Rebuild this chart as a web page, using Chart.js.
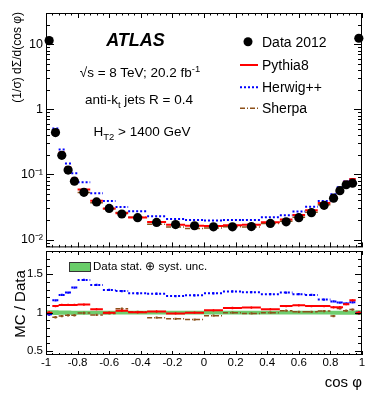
<!DOCTYPE html>
<html>
<head>
<meta charset="utf-8">
<script src="https://cdn.jsdelivr.net/npm/chart.js@4/dist/chart.umd.min.js"></script>
<style>
  body { margin: 0; background: #fff; }
  #wrap { position: relative; width: 382px; height: 398px; background: #fff; overflow: hidden;
          font-family: "Liberation Sans", Arial, sans-serif; color: #000; }
  canvas { position: absolute; left: 0; }
  .t { position: absolute; white-space: nowrap; line-height: 1; }
  .c { transform: translate(-50%, -50%); }
  .l { transform: translate(0, -50%); }
  sub, sup { font-size: 70%; line-height: 0; }
</style>
</head>
<body>
<div id="wrap">
  <canvas id="spectrum" width="382" height="252" style="top:0"></canvas>
  <canvas id="ratio" width="382" height="153" style="top:245px"></canvas>

  <div class="t c" style="left:135.5px;top:40px;font-size:18px;font-weight:bold;font-style:italic">ATLAS</div>
  <div class="t c" style="left:140px;top:73px;font-size:13.5px">√s = 8 TeV; 20.2 fb<sup>-1</sup></div>
  <div class="t c" style="left:139px;top:100px;font-size:13.5px">anti-k<sub>t</sub> jets R = 0.4</div>
  <div class="t c" style="left:142px;top:132px;font-size:13.5px">H<sub>T2</sub> &gt; 1400 GeV</div>

  <svg class="t" style="left:236px;top:30px" width="26" height="90">
    <circle cx="12" cy="11.7" r="4.5" fill="#000"/>
    <line x1="4" y1="35" x2="22" y2="35" stroke="rgb(255,0,0)" stroke-width="2"/>
    <line x1="4" y1="57.3" x2="22" y2="57.3" stroke="rgb(0,0,255)" stroke-width="2" stroke-dasharray="2,2"/>
    <line x1="4" y1="78.3" x2="22" y2="78.3" stroke="rgb(140,80,25)" stroke-width="1.5" stroke-dasharray="5,2,1,2"/>
  </svg>
  <div class="t l" style="left:262px;top:41.7px;font-size:14px">Data 2012</div>
  <div class="t l" style="left:262px;top:65px;font-size:14px">Pythia8</div>
  <div class="t l" style="left:262px;top:87.3px;font-size:14px">Herwig++</div>
  <div class="t l" style="left:262px;top:108.3px;font-size:14px">Sherpa</div>

  <div class="t" style="left:69px;top:262px;width:20px;height:8px;background:rgb(105,205,105);border:1px solid #333"></div>
  <div class="t l" style="left:93px;top:266.5px;font-size:11.5px">Data stat. ⊕ syst. unc.</div>

  <div class="t" style="left:16.5px;top:12px;font-size:12px;transform-origin:100% 50%;transform:translate(-100%,-50%) rotate(-90deg)">(1/σ) dΣ/d(cos φ)</div>
  <div class="t c" style="left:18.5px;top:303.5px;font-size:15px;transform:translate(-50%,-50%) rotate(-90deg)">MC / Data</div>
  <div class="t" style="left:362px;top:381px;font-size:15px;transform:translate(-100%,-50%)">cos φ</div>
</div>

<script>
const binEdges = [ -1, -0.96, -0.92, -0.88, -0.84, -0.8, -0.72, -0.64, -0.56, -0.48, -0.36, -0.24, -0.12,
  0, 0.12, 0.24, 0.36, 0.48, 0.56, 0.64, 0.72, 0.8, 0.84, 0.88, 0.92, 0.96, 1 ]
const data2012 = [ 11.4, 0.44, 0.197, 0.117, 0.0788, 0.0532, 0.0379, 0.0301, 0.0247, 0.0217, 0.0183, 0.0170, 0.0163,
  0.0157, 0.0157, 0.0158, 0.0177, 0.0187, 0.0217, 0.0259, 0.0335, 0.0432, 0.0563, 0.0695, 0.0735, 12.4 ]
const pythiaRatio = [ 1.0, 1.085, 1.10, 1.10, 1.10, 1.105, 1.045, 1.0, 1.025, 1.005, 1.015, 0.99, 1.0,
  1.03, 1.06, 1.065, 1.045, 1.085, 1.095, 1.085, 1.085, 1.07, 1.07, 1.11, 1.16, 1.0 ]
const herwigRatio = [ 0.98, 1.16, 1.23, 1.26, 1.325, 1.425, 1.36, 1.295, 1.28, 1.25, 1.245, 1.215, 1.225,
  1.25, 1.275, 1.265, 1.24, 1.26, 1.24, 1.23, 1.17, 1.145, 1.13, 1.12, 1.135, 1.0 ]
const sherpaRatio = [ 0.98, 0.94, 0.955, 0.965, 0.965, 0.995, 0.97, 0.99, 1.05, 1.01, 0.935, 0.92, 0.91,
  0.96, 1.0, 0.99, 1.0, 1.025, 1.01, 1.01, 1.02, 0.955, 1.055, 1.025, 1.04, 0.99 ]
const dataUnc = [ 0.03, 0.03, 0.028, 0.027, 0.026, 0.026, 0.025, 0.025, 0.025, 0.025, 0.024, 0.024, 0.024,
  0.024, 0.024, 0.024, 0.024, 0.025, 0.025, 0.025, 0.025, 0.026, 0.026, 0.027, 0.028, 0.03 ]
const mcErr = [ 0.02, 0.015, 0.015, 0.015, 0.015, 0.015, 0.015, 0.015, 0.015, 0.015, 0.015, 0.015, 0.015,
  0.015, 0.015, 0.015, 0.015, 0.015, 0.015, 0.015, 0.015, 0.015, 0.015, 0.015, 0.015, 0.02 ]

const xTickValues = [ -1, -0.8, -0.6, -0.4, -0.2, 0, 0.2, 0.4, 0.6, 0.8, 1 ]
const xTickLabels = [ '-1', '-0.8', '-0.6', '-0.4', '-0.2', '0', '0.2', '0.4', '0.6', '0.8', '1' ]
const logTickValues = [ 0.01, 0.1, 1, 10 ]
const logTickLabels = [ '10⁻²', '10⁻¹', '1', '10' ]
const ratioTickValues = [ 0.5, 1, 1.5 ]
const ratioTickLabels = [ '0.5', '1', '1.5' ]

const RED = 'rgb(255,0,0)'
const BLUE = 'rgb(0,0,255)'
const BROWN = 'rgb(140,80,25)'
const GREEN = 'rgb(110,205,110)'
const FAMILY = '"Liberation Sans", Arial, sans-serif'

const binCentre = i => (binEdges[i] + binEdges[i + 1]) / 2

// one flat segment per bin, with a gap after it
function segments(values) {
  const pts = []
  values.forEach((v, i) => {
    pts.push({ x: binEdges[i], y: v }, { x: binEdges[i + 1], y: v }, { x: binEdges[i + 1], y: null })
  })
  return pts
}

// continuous staircase, for the uncertainty band
function staircase(values) {
  const pts = []
  values.forEach((v, i) => pts.push({ x: binEdges[i], y: v }, { x: binEdges[i + 1], y: v }))
  return pts
}

function errorBars(values, errs) {
  const pts = []
  values.forEach((v, i) => {
    const c = binCentre(i)
    pts.push({ x: c, y: v - errs[i] }, { x: c, y: v + errs[i] }, { x: c, y: null })
  })
  return pts
}

function mcLine(label, pts, color, dash, width) {
  return { label, data: pts, borderColor: color, borderWidth: width, borderDash: dash,
    pointRadius: 0, fill: false, spanGaps: false, tension: 0 }
}

function linearTicks(from, to, step, majorEvery, majorLen, minorLen) {
  const out = []
  const n = Math.round((to - from) / step)
  for (let k = 0; k <= n; k++) out.push({ v: from + k * step, len: k % majorEvery === 0 ? majorLen : minorLen })
  return out
}

function logTicks(min, max, majorLen, minorLen) {
  const out = []
  for (let d = -3; d <= 2; d++) {
    for (let m = 1; m <= 9; m++) {
      const v = m * Math.pow(10, d)
      if (v >= min && v <= max) out.push({ v, len: m === 1 ? majorLen : minorLen })
    }
  }
  return out
}

// ROOT style frame with inward ticks on all four sides
const frameTicks = {
  id: 'frameTicks',
  afterDatasetsDraw(chart, args, opts) {
    const { ctx, chartArea: a, scales: { x, y } } = chart
    ctx.save()
    ctx.strokeStyle = '#000'
    ctx.lineWidth = 1
    ctx.beginPath()
    opts.x.forEach(t => {
      const px = Math.round(x.getPixelForValue(t.v)) + 0.5
      ctx.moveTo(px, a.bottom); ctx.lineTo(px, a.bottom - t.len)
      ctx.moveTo(px, a.top); ctx.lineTo(px, a.top + t.len)
    })
    opts.y.forEach(t => {
      const py = Math.round(y.getPixelForValue(t.v)) + 0.5
      ctx.moveTo(a.left, py); ctx.lineTo(a.left + t.len, py)
      ctx.moveTo(a.right, py); ctx.lineTo(a.right - t.len, py)
    })
    ctx.stroke()
    ctx.strokeRect(a.left + 0.5, a.top + 0.5, a.right - a.left - 1, a.bottom - a.top - 1)
    ctx.restore()
  }
}

function yAxis(type, min, max, values, labels, size) {
  return {
    type, min, max,
    grid: { display: false, drawTicks: false },
    border: { display: false },
    ticks: { font: { family: FAMILY, size }, color: '#000', padding: 3, callback: (v, i) => labels[i] },
    afterBuildTicks: s => { s.ticks = values.map(v => ({ value: v })) },
    afterFit: s => { s.width = 46; s.paddingTop = 0; s.paddingBottom = 0 }
  }
}

const pythiaTop = data2012.map((d, i) => d * pythiaRatio[i])
const herwigTop = data2012.map((d, i) => d * herwigRatio[i])
const sherpaTop = data2012.map((d, i) => d * sherpaRatio[i])

const logMin = 0.00757
const logMax = 30.3

new Chart(document.getElementById('spectrum'), {
  type: 'line',
  data: {
    datasets: [
      { label: 'Data 2012', data: data2012.map((v, i) => ({ x: binCentre(i), y: v })), showLine: false,
        pointRadius: 4.6, pointBackgroundColor: '#000', pointBorderWidth: 0, clip: 6 },
      mcLine('Pythia8', segments(pythiaTop), RED, [], 2),
      mcLine('Herwig++', segments(herwigTop), BLUE, [2, 2], 2),
      mcLine('Sherpa', segments(sherpaTop), BROWN, [5, 2, 1, 2], 1.5),
    ]
  },
  options: {
    responsive: false,
    animation: false,
    events: [],
    layout: { padding: { top: 13, right: 20, bottom: 1, left: 0 } },
    plugins: {
      legend: { display: false },
      tooltip: { enabled: false },
      frameTicks: {
        x: linearTicks(-1, 1, 0.04, 5, 5, 2.5),
        y: logTicks(logMin, logMax, 8, 4)
      }
    },
    scales: {
      x: { type: 'linear', min: -1, max: 1, display: false },
      y: yAxis('logarithmic', logMin, logMax, logTickValues, logTickLabels, 12.5)
    }
  },
  plugins: [ frameTicks ]
})

new Chart(document.getElementById('ratio'), {
  type: 'line',
  data: {
    datasets: [
      mcLine('Pythia8', segments(pythiaRatio), RED, [], 2),
      mcLine('Pythia8 err', errorBars(pythiaRatio, mcErr), RED, [], 1.5),
      mcLine('Herwig++', segments(herwigRatio), BLUE, [2, 2], 2),
      mcLine('Herwig++ err', errorBars(herwigRatio, mcErr), BLUE, [], 2),
      mcLine('Sherpa', segments(sherpaRatio), BROWN, [5, 2, 1, 2], 1.5),
      mcLine('Sherpa err', errorBars(sherpaRatio, mcErr), BROWN, [], 2),
      { label: 'unc low', data: staircase(dataUnc.map(e => 1 - e)), borderWidth: 0, pointRadius: 0, fill: false },
      { label: 'Data stat. + syst. unc.', data: staircase(dataUnc.map(e => 1 + e)), borderWidth: 0, pointRadius: 0,
        fill: '-1', backgroundColor: GREEN },
    ]
  },
  options: {
    responsive: false,
    animation: false,
    events: [],
    layout: { padding: { top: 6, right: 20, bottom: 0, left: 0 } },
    plugins: {
      legend: { display: false },
      tooltip: { enabled: false },
      frameTicks: {
        x: linearTicks(-1, 1, 0.04, 5, 4, 2),
        y: linearTicks(0.5, 1.8, 0.1, 5, 7, 4)
      }
    },
    scales: {
      x: {
        type: 'linear', min: -1, max: 1,
        grid: { display: false, drawTicks: false },
        border: { display: false },
        ticks: { font: { family: FAMILY, size: 11.5 }, color: '#000', padding: 1, maxRotation: 0, autoSkip: false,
          callback: (v, i) => xTickLabels[i] },
        afterBuildTicks: s => { s.ticks = xTickValues.map(v => ({ value: v })) },
        afterFit: s => { s.height = 43; s.paddingLeft = 0; s.paddingRight = 0 }
      },
      y: yAxis('linear', 0.45, 1.8, ratioTickValues, ratioTickLabels, 11.5)
    }
  },
  plugins: [ frameTicks ]
})
</script>
</body>
</html>
